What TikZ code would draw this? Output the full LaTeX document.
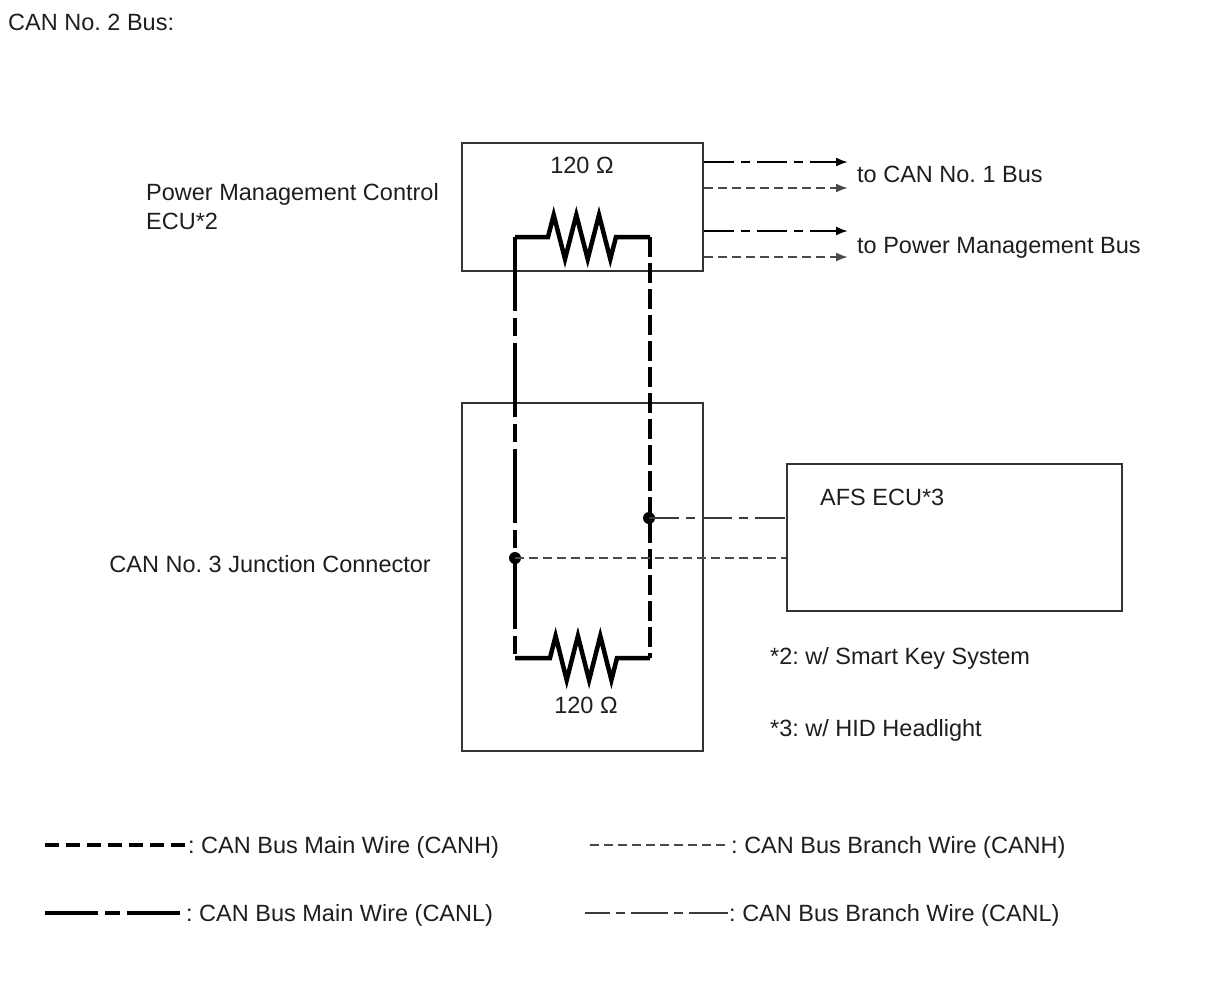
\documentclass[tikz,border=0pt]{standalone}
\usepackage{fontspec}
\setmainfont{Liberation Sans}
\usetikzlibrary{arrows.meta}
\definecolor{boxc}{HTML}{333333}
\definecolor{txtc}{HTML}{1E1E1E}
\definecolor{brc}{HTML}{4A4A4A}
\frenchspacing
\begin{document}
\begin{tikzpicture}[x=1pt,y=-1pt,
  every node/.style={font=\fontsize{23.5}{29}\selectfont, text=txtc, inner sep=0pt},
  lbl/.style={anchor=base west},
  unit/.style={draw=boxc, line width=2pt, minimum width=#1},
  mainwire/.style={line width=4.5pt, black, line join=miter},
  mainH/.style={dash pattern=on 20pt off 6pt},
  mainL/.style={dash pattern=on 74pt off 7pt on 18pt off 7pt},
  legH/.style={line width=4.5pt, black, dash pattern=on 14pt off 7pt},
  legL/.style={line width=4.5pt, black, dash pattern=on 53pt off 7pt on 15pt off 7pt},
  branchH/.style={line width=2.5pt, brc, dash pattern=on 9pt off 5pt},
  branchL/.style={line width=2.5pt, brc!80!black, dash pattern=on 30pt off 7pt on 9pt off 7pt},
  arr/.style={-{Latex[length=12pt,width=9pt]}},
  jdot/.style={circle, fill=black, minimum size=12pt}
]
\useasboundingbox (0,0) rectangle (1210,986);

% title
\node[lbl] (title) at (8,30) {CAN No. 2 Bus:};

% units
\node[unit=241pt, minimum height=128pt] (pm) at (582.5,207) {};
\node[unit=241pt, minimum height=348pt] (jc) at (582.5,577) {};
\node[unit=335pt, minimum height=147pt] (afs) at (954.5,537.5) {};

% unit labels
\node[lbl] (pmlbl) at (146,200) {Power Management Control};
\node[lbl] (pmlbl2) at (146,229) {ECU*2};
\node[anchor=base east] (jclbl) at (431,572) {CAN No. 3 Junction Connector};
\node[lbl] (afslbl) at (820,505) {AFS ECU*3};
\node[anchor=base] (r1lbl) at (582,173) {120 Ω};
\node[anchor=base] (r2lbl) at (586,713) {120 Ω};

% wire corners
\coordinate (tl) at (515,237);
\coordinate (tr) at (650,237);
\coordinate (bl) at (515,658);
\coordinate (br) at (650,658);

% top resistor
\draw[mainwire] (tl) -- (548,237) -- (553.7,215) -- (565,259) -- (576.3,215)
  -- (587.7,259) -- (599,215) -- (610.3,259) -- (616,237) -- (tr);
% bottom resistor
\draw[mainwire] (bl) -- (550,658) -- (555.6,636) -- (566.7,680) -- (577.9,636)
  -- (589.1,680) -- (600.3,636) -- (611.4,680) -- (617,658) -- (br);

% main wires
\draw[mainwire, mainL] (tl) -- (bl);
\draw[mainwire, mainH] (tr) -- (br);

% junction points
\node[jdot] (jA) at (649,518) {};
\node[jdot] (jB) at (515,558) {};

% branch wires to AFS ECU
\draw[branchL] (jA.center) -- (jA.center -| afs.west);
\draw[branchH] (jB.center) -- (jB.center -| afs.west);

% outgoing arrows
\coordinate (a1) at (848,162);
\coordinate (a2) at (848,188);
\coordinate (a3) at (848,231);
\coordinate (a4) at (848,257);
\draw[branchL, black, line width=2pt, arr] (a1 -| pm.east) -- (a1);
\draw[branchH, line width=2pt, arr] (a2 -| pm.east) -- (a2);
\draw[branchL, black, line width=2pt, arr] (a3 -| pm.east) -- (a3);
\draw[branchH, line width=2pt, arr] (a4 -| pm.east) -- (a4);
\node[lbl] (to1) at (857,182) {to CAN No. 1 Bus};
\node[lbl] (to2) at (857,253) {to Power Management Bus};

% notes
\node[lbl] (n2) at (770,664) {*2: w/ Smart Key System};
\node[lbl] (n3) at (770,736) {*3: w/ HID Headlight};

% legend
\coordinate (l1a) at (45,845);  \coordinate (l1b) at (186,845);
\coordinate (l2a) at (45,913);  \coordinate (l2b) at (184,913);
\coordinate (l3a) at (590,845); \coordinate (l3b) at (730,845);
\coordinate (l4a) at (585,913); \coordinate (l4b) at (728,913);
\draw[legH] (l1a) -- (l1b);
\draw[legL] (l2a) -- (l2b);
\draw[branchH, line width=2pt] (l3a) -- (l3b);
\draw[branchL, line width=2pt, dash pattern=on 25pt off 6pt on 9pt off 6pt on 37pt off 6pt on 9pt off 6pt on 60pt] (l4a) -- (l4b);
\node[lbl] (t1) at (188,853) {: CAN Bus Main Wire (CANH)};
\node[lbl] (t2) at (186,921) {: CAN Bus Main Wire (CANL)};
\node[lbl] (t3) at (731,853) {: CAN Bus Branch Wire (CANH)};
\node[lbl] (t4) at (729,921) {: CAN Bus Branch Wire (CANL)};
\end{tikzpicture}
\end{document}
